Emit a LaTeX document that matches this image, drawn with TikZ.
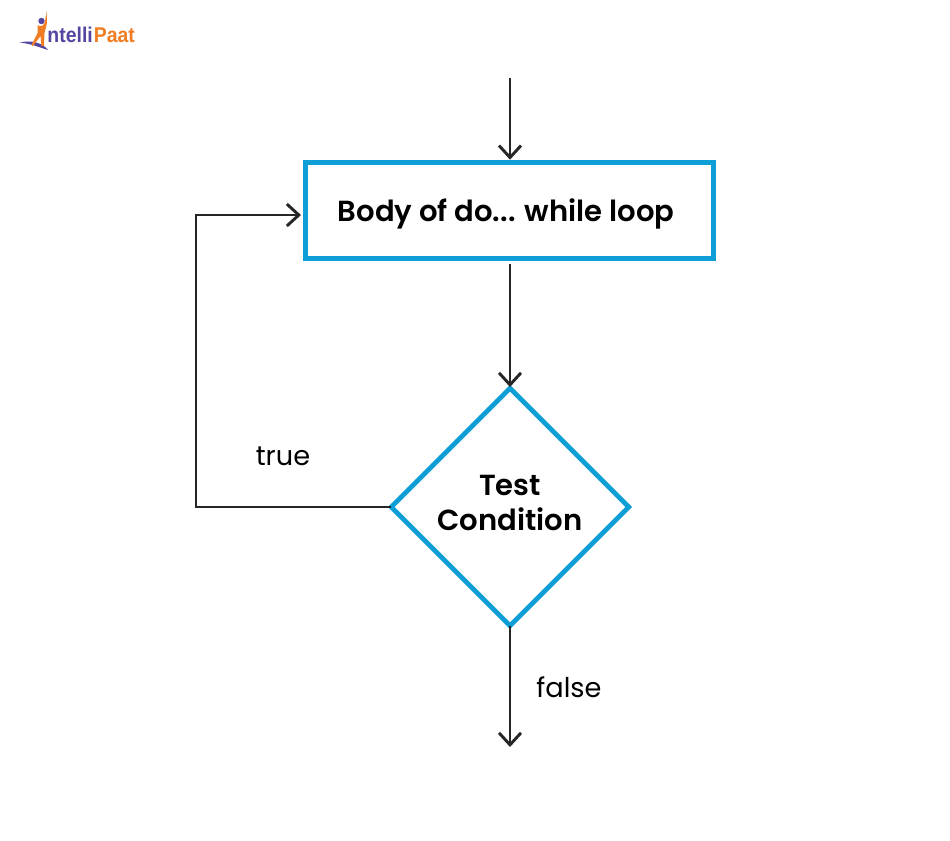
\documentclass[tikz,border=0pt]{standalone}
\usepackage{fontspec}
\setmainfont{Poppins}
\newfontfamily\logofont{Liberation Sans}
\newfontfamily\semifont{Poppins SemiBold}
\usetikzlibrary{arrows.meta,shapes.geometric}
\definecolor{boxblue}{RGB}{13,158,214}
\definecolor{linegray}{RGB}{38,38,38}
\definecolor{logoviolet}{RGB}{84,70,160}
\definecolor{logoorange}{RGB}{240,125,35}
\tikzset{every picture/.style={line width=0.75pt}}
\tikzset{
	blockline/.style={draw=boxblue,line width=3.6pt,fill=white,inner sep=0pt,outer sep=0pt},
	conn/.style={draw=linegray,line width=2.2pt},
	connarrow/.style={conn,-{Straight Barb[length=9pt,width=16.5pt,line width=2.2pt]}},
	blocktext/.style={font=\semifont\fontsize{21.8}{26}\selectfont,text=black,align=center},
	sidetext/.style={font=\fontsize{20.4}{24}\selectfont,text=black},
	logotext/.style={anchor=west,inner sep=0pt,font=\logofont\bfseries\fontsize{16}{18}\selectfont}
}

\begin{document}
\begin{tikzpicture}[x=0.75pt,y=0.75pt,yscale=-1,xscale=1]
	\useasboundingbox (0,0) rectangle (950,840);

	%Logo
	\fill [logoviolet] (20,42.5) .. controls (30,40) and (42,42) .. (48,50) .. controls (40,47.5) and (32,44) .. cycle ;
	\fill [logoviolet] (41.5,21) circle (3.2) ;
	\fill [logoorange] (46.5,11) -- (47,22) .. controls (46.5,27) and (45,30) .. (44.5,33) -- (44,46) -- (41.5,46) -- (40.5,36) -- (33,46) -- (31.5,45) -- (37.5,33) -- (37.5,25) .. controls (40,27) and (43,27) .. (45,22) -- cycle ;
	\node (logoa) [logotext,text=logoviolet] at (47,35) {\scalebox{0.91}[1]{ntelli}};
	\node (logob) [logotext,text=logoorange] at (logoa.east) {\scalebox{0.91}[1]{Paat}};

	% Blocks
	\node (body) [blockline,blocktext,minimum width=306pt,minimum height=72.2pt,text height=21.5pt,text depth=5pt] at (509.5,210.5) {Body of do... while loop\hspace*{5pt}};
	\node (test) [blockline,blocktext,shape=diamond,aspect=1,minimum width=178pt,minimum height=178pt,text depth=6pt] at (510,507) {Test\\Condition};

	% Free ends
	\coordinate (start) at (510,78);
	\coordinate (stop) at (510,747);
	\coordinate (turn) at (196,215);
	\coordinate (bodyin) at (301,215);

	% Connectors
	\draw [connarrow,shorten >=2pt] (start) -- (start |- body.north);
	\draw [connarrow,shorten <=4pt,shorten >=1pt] (start |- body.south) -- (test.north);
	\draw [connarrow] (test.west) -| (turn) -- (bodyin);
	\draw [connarrow] (test.south) -- (stop);

	% Text Node
	\node (truelabel) [sidetext] at (283,456) {true};
	\node (falselabel) [sidetext] at (569,687) {false};
\end{tikzpicture}
\end{document}
